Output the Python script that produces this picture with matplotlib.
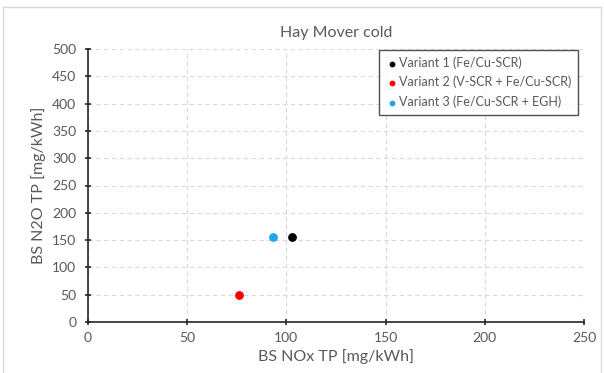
import matplotlib.pyplot as plt
from matplotlib.patches import Rectangle

labels = ['Variant 1 (Fe/Cu-SCR)', 'Variant 2 (V-SCR + Fe/Cu-SCR)', 'Variant 3 (Fe/Cu-SCR + EGH)']
nox = [103, 76, 93]
n2o = [156, 50, 156]
colors = ['#000000', '#ff0000', '#1ea7e8']

plt.rcParams['font.family'] = ['Lato', 'DejaVu Sans']
txt = '#595959'

fig = plt.figure(figsize=(6.04, 3.73), dpi=100)
fig.patches.append(Rectangle((0.005, -0.01), 0.99, 0.99, transform=fig.transFigure,
                             fill=False, edgecolor='#d9d9d9', linewidth=1))
ax = fig.add_axes([88 / 604, 1 - 322 / 373, 496 / 604, 273 / 373])

for x, y, c, l in zip(nox, n2o, colors, labels):
    ax.scatter(x, y, color=c, s=28, label=l, zorder=3, clip_on=False)

ax.set_xlim(0, 250)
ax.set_ylim(0, 500)
ax.set_xticks(range(0, 251, 50))
ax.set_yticks(range(0, 501, 50))
ax.grid(True, linestyle=(0, (4, 3)), color='#d9d9d9', linewidth=0.8)
for s in ['top', 'right']:
    ax.spines[s].set_visible(False)
for s in ['left', 'bottom']:
    ax.spines[s].set_color('#262626')
    ax.spines[s].set_linewidth(1.2)
ax.tick_params(axis='both', colors='#262626', labelcolor=txt, labelsize=10,
               direction='inout', length=5, width=1.2)
ax.tick_params(axis='y', pad=6)
ax.tick_params(axis='x', pad=5)
ax.set_xlabel('BS NOx TP [mg/kWh]', color=txt, fontsize=11.5, labelpad=3)
ax.set_ylabel('BS N2O TP [mg/kWh]', color=txt, fontsize=11.5, labelpad=4)
ax.set_title('Hay Mover cold', color=txt, fontsize=11.5, pad=9)

leg = ax.legend(loc='upper right', fontsize=9, frameon=True, fancybox=False,
                handletextpad=0.1, borderpad=0.55, labelspacing=0.55,
                markerscale=0.6, handlelength=1.0, borderaxespad=0.05,
                bbox_to_anchor=(0.99, 1.0))
leg.get_frame().set_edgecolor('#262626')
leg.get_frame().set_linewidth(1.0)
for t in leg.get_texts():
    t.set_color(txt)

fig.savefig('out.png', dpi=100)
